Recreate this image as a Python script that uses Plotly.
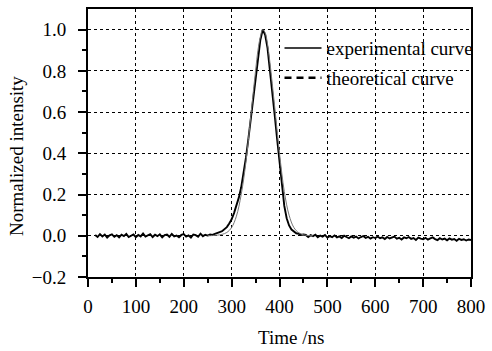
import plotly.graph_objects as go

# Experimental curve (sampled every 5 ns from 15 ns to 800 ns)
exp_time = list(range(15, 805, 5))
exp_intensity = [
    # 15 .. 250 ns
    0.004, -0.006, 0.008, -0.003, 0.006, -0.009, 0.002, 0.007, -0.005, 0.003,
    -0.008, 0.005, -0.002, 0.009, -0.006, 0.001, 0.006, -0.007, 0.004, -0.003,
    0.011, -0.004, 0.002, 0.008, -0.006, 0.005, -0.002, 0.007, -0.008, 0.003,
    0.006, -0.005, 0.009, -0.003, 0.001, -0.007, 0.004, 0.008, -0.004, 0.002,
    -0.009, 0.006, 0.003, -0.005, 0.010, -0.002, 0.005, 0.001,
    # 255 .. 450 ns
    0.006, 0.004, 0.009, 0.012, 0.018, 0.022, 0.030, 0.042, 0.060, 0.080,
    0.110, 0.145, 0.185, 0.235, 0.300, 0.380, 0.470, 0.570, 0.680, 0.780,
    0.870, 0.950, 1.000, 0.975, 0.910, 0.810, 0.700, 0.585, 0.470, 0.355,
    0.240, 0.145, 0.085, 0.050, 0.030, 0.020, 0.012, 0.010, 0.004, 0.006,
    # 455 .. 800 ns
    0.004, -0.006, 0.003, -0.002, 0.005, -0.007, 0.001, -0.004, 0.004, -0.009,
    -0.002, -0.007, 0.002, -0.008, -0.003, -0.011, 0.000, -0.006, -0.012, -0.003,
    -0.009, -0.004, -0.013, -0.006, -0.001, -0.010, -0.005, -0.014, -0.007, -0.011,
    -0.004, -0.012, -0.008, -0.016, -0.006, -0.013, -0.009, -0.004, -0.014, -0.010,
    -0.018, -0.008, -0.012, -0.006, -0.015, -0.011, -0.020, -0.009, -0.014, -0.017,
    -0.010, -0.019, -0.013, -0.008, -0.016, -0.021, -0.012, -0.018, -0.014, -0.022,
    -0.013, -0.019, -0.016, -0.024, -0.015, -0.020, -0.017, -0.023, -0.018, -0.021,
]

# Theoretical curve
theo_time = [250, 260, 270, 280, 290, 300, 310, 320, 330, 340, 350, 355, 360, 365,
             370, 375, 380, 390, 400, 410, 420, 430, 440, 450, 460, 470]
theo_intensity = [0.0, 0.001, 0.003, 0.007, 0.016, 0.040, 0.095, 0.200, 0.360, 0.580,
                  0.800, 0.900, 0.965, 1.000, 0.985, 0.930, 0.840, 0.625, 0.400, 0.215,
                  0.100, 0.040, 0.015, 0.005, 0.001, 0.0]

x_ticks = [0, 100, 200, 300, 400, 500, 600, 700, 800]
x_tick_labels = ["0", "100", "200", "300", "400", "500", "600", "700", "800"]
y_ticks = [-0.2, 0.0, 0.2, 0.4, 0.6, 0.8, 1.0]
y_tick_labels = ["\u22120.2", "0.0", "0.2", "0.4", "0.6", "0.8", "1.0"]

FONT = "Liberation Serif"
FS = 19
TICKFONT = dict(family=FONT, size=FS, color="black")

fig = go.Figure()
fig.add_trace(go.Scatter(x=exp_time, y=exp_intensity, mode="lines",
                         line=dict(color="black", width=1.9), showlegend=False))
fig.add_trace(go.Scatter(x=theo_time, y=theo_intensity, mode="lines", line_shape="spline",
                         line=dict(color="#777777", width=1), showlegend=False))
# legend entries
fig.add_trace(go.Scatter(x=[None], y=[None], mode="lines", name="experimental curve",
                         line=dict(color="black", width=1.6), legendgroup="a"))
fig.add_trace(go.Scatter(x=[None], y=[None], mode="lines", name="theoretical curve",
                         line=dict(color="black", width=2.5, dash="7px,5px"), legendgroup="b"))

axis_common = dict(
    showline=True, linecolor="black", linewidth=1.8, mirror=True,
    ticks="outside", ticklen=8, tickwidth=1.5, tickcolor="black",
    showgrid=True, gridcolor="black", gridwidth=1, griddash="dot",
    zeroline=False,
)

fig.update_xaxes(range=[0, 800], tickmode="array", tickvals=x_ticks, ticktext=x_tick_labels,
                 ticklabelstandoff=3, tickfont=TICKFONT,
                 minor=dict(dtick=50, ticks="outside", ticklen=4, tickwidth=1.5,
                            tickcolor="black", showgrid=False),
                 **axis_common)
fig.update_yaxes(range=[-0.2, 1.1], tickmode="array", tickvals=y_ticks, ticktext=y_tick_labels,
                 ticklabelstandoff=8, tickfont=TICKFONT,
                 minor=dict(tickvals=[-0.1, 0.1, 0.3, 0.5, 0.7, 0.9], ticks="outside",
                            ticklen=4, tickwidth=1.5, tickcolor="black", showgrid=False),
                 **axis_common)

fig.add_annotation(text="Time /ns", xref="paper", yref="paper", x=0.529, y=-0.226,
                   xanchor="center", yanchor="middle",
                   showarrow=False, font=dict(family=FONT, size=FS, color="black"))
fig.add_annotation(text="Normalized intensity", xref="paper", yref="paper", x=-0.185, y=0.452,
                   xanchor="center", yanchor="middle",
                   textangle=-90, showarrow=False,
                   font=dict(family=FONT, size=FS, color="black"))

fig.update_layout(
    width=492, height=351,
    margin=dict(l=88, r=20, t=7, b=74),
    plot_bgcolor="white", paper_bgcolor="white",
    font=dict(family=FONT, size=FS, color="black"),
    legend=dict(x=0.50, y=0.925, xanchor="left", yanchor="top",
                bgcolor="rgba(0,0,0,0)", borderwidth=0, tracegroupgap=2,
                itemwidth=37, font=dict(family=FONT, size=FS, color="black")),
)

fig.write_html("out.html", config={"displayModeBar": False},
               post_script="document.body.style.margin='0';document.body.style.padding='0';")
